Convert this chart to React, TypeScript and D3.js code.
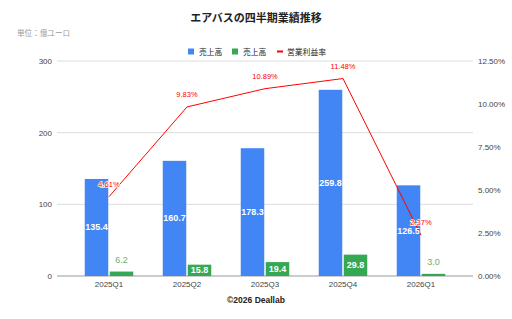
import { useEffect, useRef } from "react";
import * as d3 from "d3";

const quarters = ["2025Q1", "2025Q2", "2025Q3", "2025Q4", "2026Q1"];
const revenue = [135.4, 160.7, 178.3, 259.8, 126.5];
const opProfit = [6.2, 15.8, 19.4, 29.8, 3.0];
const opMargin = [4.61, 9.83, 10.89, 11.48, 2.37];
const leftTicks = [0, 100, 200, 300];
const rightTicks = [0, 2.5, 5, 7.5, 10, 12.5];

const FONT = "Arial, 'Liberation Sans', 'Noto Sans CJK JP', sans-serif";
const BLUE = "#4285F4";
const GREEN = "#34A853";
const RED = "#FF0000";

export default function App() {
  const svgRef = useRef<SVGSVGElement>(null);

  useEffect(() => {
    if (!svgRef.current) return;
    const svg = d3.select(svgRef.current);
    svg.selectAll("*").remove();

    const plotLeft = 57, plotRight = 473, top = 61, bottom = 276;

    const x = d3.scaleBand().domain(quarters).range([70, 460]);
    const yL = d3.scaleLinear().domain([0, 300]).range([bottom, top]);
    const yR = d3.scaleLinear().domain([0, 12.5]).range([bottom, top]);

    svg.append("rect").attr("width", 512).attr("height", 319).attr("fill", "#fff");

    // title
    svg.append("text")
      .attr("x", 256).attr("y", 22)
      .attr("text-anchor", "middle")
      .attr("font-family", FONT)
      .attr("font-size", 11).attr("font-weight", "bold")
      .attr("fill", "#222")
      .text("エアバスの四半期業績推移");

    svg.append("text")
      .attr("x", 17).attr("y", 36)
      .attr("font-family", FONT)
      .attr("font-size", 7.6)
      .attr("fill", "#999")
      .text("単位：億ユーロ");

    // legend
    const lg = svg.append("g").attr("font-family", FONT).attr("font-size", 7.8).attr("fill", "#222");
    lg.append("rect").attr("x", 188).attr("y", 48.5).attr("width", 6).attr("height", 6).attr("fill", BLUE);
    lg.append("text").attr("x", 199).attr("y", 54.5).text("売上高");
    lg.append("rect").attr("x", 232).attr("y", 48.5).attr("width", 6).attr("height", 6).attr("fill", GREEN);
    lg.append("text").attr("x", 243).attr("y", 54.5).text("売上高");
    lg.append("rect").attr("x", 277).attr("y", 50.5).attr("width", 6).attr("height", 2).attr("fill", RED);
    lg.append("text").attr("x", 287).attr("y", 54.5).text("営業利益率");

    // gridlines + left ticks
    const g = svg.append("g").attr("font-family", FONT).attr("font-size", 8);
    leftTicks.forEach(t => {
      g.append("line")
        .attr("x1", plotLeft).attr("x2", plotRight)
        .attr("y1", yL(t)).attr("y2", yL(t))
        .attr("stroke", t === 0 ? "#999" : "#ddd")
        .attr("stroke-width", 1);
      g.append("text")
        .attr("x", 52).attr("y", yL(t) + 3)
        .attr("text-anchor", "end").attr("fill", "#444")
        .text(t);
    });
    rightTicks.forEach(t => {
      g.append("text")
        .attr("x", 478).attr("y", yR(t) + 3)
        .attr("fill", "#444")
        .text(t.toFixed(2) + "%");
    });
    quarters.forEach(q => {
      g.append("text")
        .attr("x", x(q)! + x.bandwidth() / 2).attr("y", bottom + 11)
        .attr("text-anchor", "middle").attr("fill", "#444")
        .text(q);
    });

    const barW = 23.5;
    const gap = 1.5;
    // revenue bars
    svg.append("g").selectAll("rect").data(revenue).enter().append("rect")
      .attr("x", (_, i) => x(quarters[i])! + x.bandwidth() / 2 - gap / 2 - barW)
      .attr("y", d => yL(d))
      .attr("width", barW)
      .attr("height", d => bottom - yL(d))
      .attr("fill", BLUE);
    svg.append("g").selectAll("rect").data(opProfit).enter().append("rect")
      .attr("x", (_, i) => x(quarters[i])! + x.bandwidth() / 2 + gap / 2)
      .attr("y", d => yL(d))
      .attr("width", barW)
      .attr("height", d => bottom - yL(d))
      .attr("fill", GREEN);

    // line
    const line = d3.line<number>()
      .x((_, i) => x(quarters[i])! + x.bandwidth() / 2)
      .y(d => yR(d));
    svg.append("path")
      .datum(opMargin)
      .attr("d", line)
      .attr("fill", "none")
      .attr("stroke", RED)
      .attr("stroke-width", 1);

    // bar labels
    const lbl = svg.append("g").attr("font-family", FONT).attr("font-size", 9).attr("font-weight", "bold");
    revenue.forEach((v, i) => {
      lbl.append("text")
        .attr("x", x(quarters[i])! + x.bandwidth() / 2 - gap / 2 - barW / 2)
        .attr("y", (yL(v) + bottom) / 2 + 3)
        .attr("text-anchor", "middle").attr("fill", "#fff")
        .text(v.toFixed(1));
    });
    opProfit.forEach((v, i) => {
      const inside = bottom - yL(v) > 10;
      lbl.append("text")
        .attr("x", x(quarters[i])! + x.bandwidth() / 2 + gap / 2 + barW / 2)
        .attr("y", inside ? (yL(v) + bottom) / 2 + 3 : yL(v) - 9)
        .attr("text-anchor", "middle")
        .attr("fill", inside ? "#fff" : "#6aaf6f")
        .attr("font-weight", inside ? "bold" : "normal")
        .text(v.toFixed(1));
    });
    opMargin.forEach((v, i) => {
      lbl.append("text")
        .attr("x", x(quarters[i])! + x.bandwidth() / 2)
        .attr("y", yR(v) - 10)
        .attr("text-anchor", "middle")
        .attr("font-size", 7.5)
        .attr("font-weight", "normal")
        .attr("fill", RED)
        .attr("stroke", "#fff")
        .attr("stroke-width", 1.5)
        .attr("paint-order", "stroke")
        .text(v.toFixed(2) + "%");
    });

    svg.append("text")
      .attr("x", 256).attr("y", 303)
      .attr("text-anchor", "middle")
      .attr("font-family", FONT)
      .attr("font-size", 8.5).attr("font-weight", "bold")
      .attr("fill", "#222")
      .text("©2026 Deallab");
  }, []);

  return (
    <div style={{ position: "absolute", left: 0, top: 0 }}>
      <svg ref={svgRef} width={512} height={319}></svg>
    </div>
  );
}
